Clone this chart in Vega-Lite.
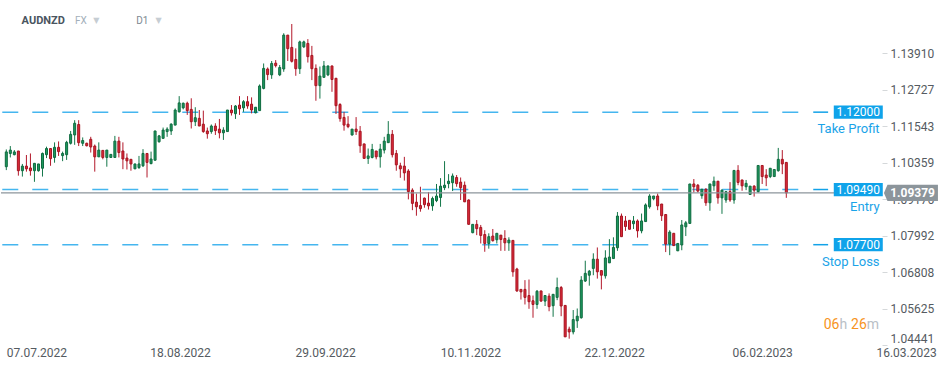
{
"$schema": "https://vega.github.io/schema/vega-lite/v6.json",
"width": 881, "height": 346, "padding": 0, "background": "white",
"config": {"view": {"stroke": null}, "font": "Roboto", "scale": {"continuousPadding": 0}},
"datasets": {
"levels": [
{"name": "Take Profit", "price": 1.12, "tag": "1.12000"},
{"name": "Entry", "price": 1.0949, "tag": "1.09490"},
{"name": "Stop Loss", "price": 1.077, "tag": "1.07700"}
],
"last": [{"price": 1.09379, "tag": "1.09379"}],
"candles": [
{"day":0,"open":1.1023,"high":1.1079,"low":1.1012,"close":1.1071},
{"day":1,"open":1.1066,"high":1.1090,"low":1.1053,"close":1.1077},
{"day":2,"open":1.1062,"high":1.1077,"low":1.1060,"close":1.1071},
{"day":3,"open":1.1074,"high":1.1074,"low":1.0994,"close":1.1010},
{"day":4,"open":1.1010,"high":1.1032,"low":1.0991,"close":1.1025},
{"day":5,"open":1.1025,"high":1.1061,"low":1.1007,"close":1.1016},
{"day":6,"open":1.1019,"high":1.1066,"low":1.0994,"close":1.1010},
{"day":7,"open":1.1010,"high":1.1034,"low":1.0974,"close":1.1034},
{"day":8,"open":1.1010,"high":1.1032,"low":1.1007,"close":1.1032},
{"day":9,"open":1.1018,"high":1.1069,"low":1.0991,"close":1.1066},
{"day":10,"open":1.1062,"high":1.1088,"low":1.1051,"close":1.1082},
{"day":11,"open":1.1082,"high":1.1082,"low":1.1026,"close":1.1049},
{"day":12,"open":1.1053,"high":1.1102,"low":1.1036,"close":1.1086},
{"day":13,"open":1.1086,"high":1.1105,"low":1.1058,"close":1.1072},
{"day":14,"open":1.1059,"high":1.1072,"low":1.1041,"close":1.1066},
{"day":15,"open":1.1062,"high":1.1107,"low":1.1045,"close":1.1102},
{"day":16,"open":1.1099,"high":1.1139,"low":1.1095,"close":1.1128},
{"day":17,"open":1.1126,"high":1.1174,"low":1.1094,"close":1.1164},
{"day":18,"open":1.1160,"high":1.1174,"low":1.1090,"close":1.1101},
{"day":19,"open":1.1099,"high":1.1118,"low":1.1090,"close":1.1108},
{"day":20,"open":1.1099,"high":1.1101,"low":1.1089,"close":1.1091},
{"day":21,"open":1.1112,"high":1.1120,"low":1.1069,"close":1.1087},
{"day":22,"open":1.1090,"high":1.1095,"low":1.1007,"close":1.1055},
{"day":23,"open":1.1055,"high":1.1102,"low":1.1055,"close":1.1077},
{"day":24,"open":1.1076,"high":1.1076,"low":1.1047,"close":1.1053},
{"day":25,"open":1.1053,"high":1.1077,"low":1.1023,"close":1.1077},
{"day":26,"open":1.1053,"high":1.1064,"low":1.1052,"close":1.1063},
{"day":27,"open":1.1053,"high":1.1123,"low":1.1053,"close":1.1106},
{"day":28,"open":1.1106,"high":1.1120,"low":1.1053,"close":1.1069},
{"day":29,"open":1.1074,"high":1.1102,"low":1.1015,"close":1.1048},
{"day":30,"open":1.1051,"high":1.1066,"low":1.1014,"close":1.1042},
{"day":31,"open":1.1047,"high":1.1047,"low":1.1010,"close":1.1032},
{"day":32,"open":1.1016,"high":1.1032,"low":1.1016,"close":1.1032},
{"day":33,"open":1.1020,"high":1.1058,"low":1.1016,"close":1.1032},
{"day":34,"open":1.1026,"high":1.1080,"low":1.1022,"close":1.1066},
{"day":35,"open":1.1066,"high":1.1066,"low":1.0988,"close":1.1037},
{"day":36,"open":1.1033,"high":1.1072,"low":1.1031,"close":1.1048},
{"day":37,"open":1.1044,"high":1.1139,"low":1.1044,"close":1.1139},
{"day":38,"open":1.1104,"high":1.1126,"low":1.1101,"close":1.1123},
{"day":39,"open":1.1115,"high":1.1150,"low":1.1115,"close":1.1142},
{"day":40,"open":1.1137,"high":1.1151,"low":1.1120,"close":1.1145},
{"day":41,"open":1.1139,"high":1.1164,"low":1.1126,"close":1.1161},
{"day":42,"open":1.1158,"high":1.1212,"low":1.1158,"close":1.1207},
{"day":43,"open":1.1201,"high":1.1252,"low":1.1199,"close":1.1230},
{"day":44,"open":1.1214,"high":1.1231,"low":1.1209,"close":1.1229},
{"day":45,"open":1.1229,"high":1.1234,"low":1.1191,"close":1.1205},
{"day":46,"open":1.1209,"high":1.1245,"low":1.1147,"close":1.1169},
{"day":47,"open":1.1169,"high":1.1216,"low":1.1155,"close":1.1182},
{"day":48,"open":1.1180,"high":1.1207,"low":1.1155,"close":1.1155},
{"day":49,"open":1.1161,"high":1.1205,"low":1.1133,"close":1.1137},
{"day":50,"open":1.1139,"high":1.1150,"low":1.1114,"close":1.1130},
{"day":51,"open":1.1137,"high":1.1160,"low":1.1130,"close":1.1155},
{"day":52,"open":1.1155,"high":1.1164,"low":1.1126,"close":1.1140},
{"day":53,"open":1.1145,"high":1.1178,"low":1.1115,"close":1.1133},
{"day":54,"open":1.1133,"high":1.1151,"low":1.1110,"close":1.1142},
{"day":55,"open":1.1137,"high":1.1207,"low":1.1137,"close":1.1207},
{"day":56,"open":1.1207,"high":1.1223,"low":1.1189,"close":1.1198},
{"day":57,"open":1.1195,"high":1.1223,"low":1.1178,"close":1.1220},
{"day":58,"open":1.1223,"high":1.1252,"low":1.1191,"close":1.1211},
{"day":59,"open":1.1214,"high":1.1239,"low":1.1201,"close":1.1234},
{"day":60,"open":1.1234,"high":1.1252,"low":1.1211,"close":1.1220},
{"day":61,"open":1.1226,"high":1.1248,"low":1.1196,"close":1.1207},
{"day":62,"open":1.1198,"high":1.1216,"low":1.1196,"close":1.1216},
{"day":63,"open":1.1205,"high":1.1290,"low":1.1205,"close":1.1285},
{"day":64,"open":1.1277,"high":1.1358,"low":1.1274,"close":1.1342},
{"day":65,"open":1.1340,"high":1.1345,"low":1.1304,"close":1.1322},
{"day":66,"open":1.1321,"high":1.1366,"low":1.1308,"close":1.1358},
{"day":67,"open":1.1359,"high":1.1369,"low":1.1345,"close":1.1351},
{"day":68,"open":1.1321,"high":1.1353,"low":1.1317,"close":1.1345},
{"day":69,"open":1.1340,"high":1.1456,"low":1.1331,"close":1.1450},
{"day":70,"open":1.1450,"high":1.1450,"low":1.1366,"close":1.1406},
{"day":71,"open":1.1410,"high":1.1486,"low":1.1361,"close":1.1365},
{"day":72,"open":1.1371,"high":1.1407,"low":1.1318,"close":1.1341},
{"day":73,"open":1.1341,"high":1.1432,"low":1.1324,"close":1.1428},
{"day":74,"open":1.1412,"high":1.1432,"low":1.1408,"close":1.1428},
{"day":75,"open":1.1423,"high":1.1437,"low":1.1361,"close":1.1380},
{"day":76,"open":1.1384,"high":1.1415,"low":1.1304,"close":1.1341},
{"day":77,"open":1.1342,"high":1.1355,"low":1.1237,"close":1.1286},
{"day":78,"open":1.1286,"high":1.1348,"low":1.1244,"close":1.1317},
{"day":79,"open":1.1313,"high":1.1366,"low":1.1313,"close":1.1350},
{"day":80,"open":1.1321,"high":1.1350,"low":1.1317,"close":1.1350},
{"day":81,"open":1.1350,"high":1.1350,"low":1.1266,"close":1.1306},
{"day":82,"open":1.1310,"high":1.1310,"low":1.1194,"close":1.1221},
{"day":83,"open":1.1225,"high":1.1229,"low":1.1169,"close":1.1179},
{"day":84,"open":1.1183,"high":1.1201,"low":1.1140,"close":1.1158},
{"day":85,"open":1.1161,"high":1.1187,"low":1.1148,"close":1.1153},
{"day":86,"open":1.1126,"high":1.1145,"low":1.1124,"close":1.1145},
{"day":87,"open":1.1145,"high":1.1184,"low":1.1126,"close":1.1137},
{"day":88,"open":1.1138,"high":1.1155,"low":1.1068,"close":1.1091},
{"day":89,"open":1.1097,"high":1.1097,"low":1.1050,"close":1.1050},
{"day":90,"open":1.1050,"high":1.1082,"low":1.1032,"close":1.1058},
{"day":91,"open":1.1053,"high":1.1097,"low":1.1050,"close":1.1079},
{"day":92,"open":1.1074,"high":1.1074,"low":1.1047,"close":1.1055},
{"day":93,"open":1.1055,"high":1.1097,"low":1.1020,"close":1.1080},
{"day":94,"open":1.1077,"high":1.1120,"low":1.1066,"close":1.1106},
{"day":95,"open":1.1101,"high":1.1171,"low":1.1101,"close":1.1128},
{"day":96,"open":1.1128,"high":1.1142,"low":1.1053,"close":1.1062},
{"day":97,"open":1.1066,"high":1.1077,"low":1.1010,"close":1.1029},
{"day":98,"open":1.1026,"high":1.1036,"low":1.0987,"close":1.1016},
{"day":99,"open":1.1025,"high":1.1055,"low":1.0978,"close":1.1003},
{"day":100,"open":1.1009,"high":1.1015,"low":1.0917,"close":1.0942},
{"day":101,"open":1.0947,"high":1.0953,"low":1.0882,"close":1.0904},
{"day":102,"open":1.0908,"high":1.0936,"low":1.0864,"close":1.0893},
{"day":103,"open":1.0897,"high":1.0958,"low":1.0877,"close":1.0887},
{"day":104,"open":1.0921,"high":1.0923,"low":1.0890,"close":1.0900},
{"day":105,"open":1.0905,"high":1.0941,"low":1.0884,"close":1.0896},
{"day":106,"open":1.0896,"high":1.0926,"low":1.0880,"close":1.0920},
{"day":107,"open":1.0913,"high":1.0967,"low":1.0908,"close":1.0928},
{"day":108,"open":1.0923,"high":1.0986,"low":1.0893,"close":1.0960},
{"day":109,"open":1.0955,"high":1.1041,"low":1.0947,"close":1.0963},
{"day":110,"open":1.0968,"high":1.0999,"low":1.0953,"close":1.0976},
{"day":111,"open":1.0971,"high":1.1001,"low":1.0944,"close":1.0993},
{"day":112,"open":1.0988,"high":1.0996,"low":1.0958,"close":1.0968},
{"day":113,"open":1.0973,"high":1.0988,"low":1.0915,"close":1.0955},
{"day":114,"open":1.0963,"high":1.0975,"low":1.0909,"close":1.0909},
{"day":115,"open":1.0915,"high":1.0917,"low":1.0836,"close":1.0836},
{"day":116,"open":1.0809,"high":1.0836,"low":1.0807,"close":1.0836},
{"day":117,"open":1.0836,"high":1.0850,"low":1.0801,"close":1.0822},
{"day":118,"open":1.0826,"high":1.0834,"low":1.0774,"close":1.0800},
{"day":119,"open":1.0803,"high":1.0817,"low":1.0747,"close":1.0774},
{"day":120,"open":1.0774,"high":1.0807,"low":1.0757,"close":1.0796},
{"day":121,"open":1.0798,"high":1.0821,"low":1.0780,"close":1.0783},
{"day":122,"open":1.0786,"high":1.0807,"low":1.0774,"close":1.0807},
{"day":123,"open":1.0801,"high":1.0801,"low":1.0750,"close":1.0787},
{"day":124,"open":1.0790,"high":1.0817,"low":1.0750,"close":1.0776},
{"day":125,"open":1.0776,"high":1.0794,"low":1.0750,"close":1.0785},
{"day":126,"open":1.0784,"high":1.0784,"low":1.0666,"close":1.0682},
{"day":127,"open":1.0691,"high":1.0695,"low":1.0617,"close":1.0620},
{"day":128,"open":1.0625,"high":1.0625,"low":1.0592,"close":1.0617},
{"day":129,"open":1.0625,"high":1.0655,"low":1.0576,"close":1.0599},
{"day":130,"open":1.0605,"high":1.0657,"low":1.0562,"close":1.0585},
{"day":131,"open":1.0588,"high":1.0605,"low":1.0533,"close":1.0576},
{"day":132,"open":1.0576,"high":1.0623,"low":1.0562,"close":1.0619},
{"day":133,"open":1.0620,"high":1.0620,"low":1.0585,"close":1.0587},
{"day":134,"open":1.0587,"high":1.0605,"low":1.0571,"close":1.0605},
{"day":135,"open":1.0603,"high":1.0612,"low":1.0554,"close":1.0569},
{"day":136,"open":1.0572,"high":1.0609,"low":1.0536,"close":1.0609},
{"day":137,"open":1.0599,"high":1.0663,"low":1.0590,"close":1.0631},
{"day":138,"open":1.0631,"high":1.0636,"low":1.0538,"close":1.0571},
{"day":139,"open":1.0573,"high":1.0573,"low":1.0471,"close":1.0471},
{"day":140,"open":1.0496,"high":1.0504,"low":1.0465,"close":1.0487},
{"day":141,"open":1.0487,"high":1.0558,"low":1.0479,"close":1.0527},
{"day":142,"open":1.0523,"high":1.0563,"low":1.0500,"close":1.0538},
{"day":143,"open":1.0533,"high":1.0668,"low":1.0530,"close":1.0655},
{"day":144,"open":1.0652,"high":1.0718,"low":1.0649,"close":1.0677},
{"day":145,"open":1.0671,"high":1.0688,"low":1.0637,"close":1.0684},
{"day":146,"open":1.0693,"high":1.0742,"low":1.0671,"close":1.0723},
{"day":147,"open":1.0723,"high":1.0761,"low":1.0660,"close":1.0682},
{"day":148,"open":1.0686,"high":1.0686,"low":1.0625,"close":1.0671},
{"day":149,"open":1.0669,"high":1.0752,"low":1.0660,"close":1.0727},
{"day":150,"open":1.0711,"high":1.0788,"low":1.0711,"close":1.0730},
{"day":151,"open":1.0725,"high":1.0794,"low":1.0725,"close":1.0761},
{"day":152,"open":1.0760,"high":1.0876,"low":1.0750,"close":1.0863},
{"day":153,"open":1.0863,"high":1.0871,"low":1.0796,"close":1.0796},
{"day":154,"open":1.0847,"high":1.0863,"low":1.0815,"close":1.0829},
{"day":155,"open":1.0849,"high":1.0849,"low":1.0820,"close":1.0820},
{"day":156,"open":1.0838,"high":1.0863,"low":1.0821,"close":1.0847},
{"day":157,"open":1.0847,"high":1.0852,"low":1.0793,"close":1.0815},
{"day":158,"open":1.0815,"high":1.0871,"low":1.0807,"close":1.0847},
{"day":159,"open":1.0845,"high":1.0904,"low":1.0845,"close":1.0899},
{"day":160,"open":1.0893,"high":1.0934,"low":1.0887,"close":1.0928},
{"day":161,"open":1.0919,"high":1.0928,"low":1.0914,"close":1.0928},
{"day":162,"open":1.0928,"high":1.0936,"low":1.0882,"close":1.0896},
{"day":163,"open":1.0902,"high":1.0902,"low":1.0847,"close":1.0864},
{"day":164,"open":1.0868,"high":1.0868,"low":1.0746,"close":1.0772},
{"day":165,"open":1.0772,"high":1.0817,"low":1.0736,"close":1.0811},
{"day":166,"open":1.0807,"high":1.0807,"low":1.0767,"close":1.0767},
{"day":167,"open":1.0750,"high":1.0774,"low":1.0750,"close":1.0774},
{"day":168,"open":1.0769,"high":1.0850,"low":1.0752,"close":1.0834},
{"day":169,"open":1.0828,"high":1.0847,"low":1.0798,"close":1.0841},
{"day":170,"open":1.0839,"high":1.0967,"low":1.0839,"close":1.0967},
{"day":171,"open":1.0967,"high":1.0983,"low":1.0939,"close":1.0958},
{"day":172,"open":1.0963,"high":1.0967,"low":1.0939,"close":1.0944},
{"day":173,"open":1.0929,"high":1.0950,"low":1.0919,"close":1.0950},
{"day":174,"open":1.0950,"high":1.0953,"low":1.0896,"close":1.0906},
{"day":175,"open":1.0906,"high":1.0967,"low":1.0880,"close":1.0967},
{"day":176,"open":1.0961,"high":1.0991,"low":1.0945,"close":1.0976},
{"day":177,"open":1.0976,"high":1.0976,"low":1.0903,"close":1.0922},
{"day":178,"open":1.0922,"high":1.0949,"low":1.0870,"close":1.0947},
{"day":179,"open":1.0915,"high":1.0942,"low":1.0906,"close":1.0942},
{"day":180,"open":1.0942,"high":1.0973,"low":1.0909,"close":1.0915},
{"day":181,"open":1.0915,"high":1.1011,"low":1.0903,"close":1.1011},
{"day":182,"open":1.1011,"high":1.1028,"low":1.0963,"close":1.0972},
{"day":183,"open":1.0980,"high":1.0980,"low":1.0945,"close":1.0961},
{"day":184,"open":1.0958,"high":1.0980,"low":1.0947,"close":1.0969},
{"day":185,"open":1.0933,"high":1.0960,"low":1.0933,"close":1.0960},
{"day":186,"open":1.0960,"high":1.0963,"low":1.0926,"close":1.0947},
{"day":187,"open":1.0942,"high":1.1027,"low":1.0939,"close":1.1027},
{"day":188,"open":1.1027,"high":1.1027,"low":1.0967,"close":1.0991},
{"day":189,"open":1.0996,"high":1.1015,"low":1.0960,"close":1.0987},
{"day":190,"open":1.0991,"high":1.1018,"low":1.0986,"close":1.1018},
{"day":191,"open":1.0991,"high":1.1014,"low":1.0991,"close":1.1014},
{"day":192,"open":1.1010,"high":1.1084,"low":1.1007,"close":1.1047},
{"day":193,"open":1.1047,"high":1.1077,"low":1.0999,"close":1.1032},
{"day":194,"open":1.1037,"high":1.1037,"low":1.0922,"close":1.0938}
]
},
"layer": [
{
"data": {"name": "levels"},
"mark": {"type": "rule", "strokeDash": [16, 14], "strokeWidth": 1.5, "color": "#45b6ef"},
"encoding": {
"x": {"datum": -1.0, "type": "quantitative", "scale": {"domain": [-1.32, 217.8], "nice": false, "zero": false, "padding": 0}, "title": null},
"x2": {"datum": 197.7},
"y": {"field": "price", "type": "quantitative", "scale": {"domain": [1.04413, 1.15639], "nice": false, "zero": false}, "title": null}
}
},
{
"data": {"name": "candles"},
"mark": {"type": "rule", "strokeWidth": 1},
"encoding": {
"x": {"field": "day", "type": "quantitative", "scale": {"domain": [-1.32, 217.8], "nice": false, "zero": false, "padding": 0}, "title": null,
"axis": {"values": [0, 35.7, 71.8, 107.9, 143.7, 180.5, 216.3],
"labelExpr": "['07.07.2022','18.08.2022','29.09.2022','10.11.2022','22.12.2022','06.02.2023','16.03.2023'][indexof([0,35.7,71.8,107.9,143.7,180.5,216.3], datum.value)]",
"grid": false, "domain": false, "ticks": false, "labelFont": "Roboto", "labelFontSize": 12, "labelColor": "#555b61",
"labelAlign": "left", "labelFlush": false, "labelOverlap": false, "labelPadding": 1, "labelBaseline": "top"}},
"y": {"field": "low", "type": "quantitative", "scale": {"domain": [1.04413, 1.15639], "nice": false, "zero": false}, "title": null,
"axis": {"orient": "right", "values": [1.04441, 1.05625, 1.06808, 1.07992, 1.09176, 1.10359, 1.11543, 1.12727, 1.1391],
"format": ".5f", "grid": false, "domain": false, "tickSize": 5, "tickColor": "#d5d8da", "labelPadding": 3,
"labelFont": "Roboto", "labelFontSize": 12, "labelColor": "#555b61", "labelOverlap": false, "labelBound": false,
"labelBaseline": {"condition": {"test": "datum.value < 1.05", "value": "bottom"}, "value": "middle"}}},
"y2": {"field": "high"},
"color": {"condition": {"test": "datum.close >= datum.open", "value": "#14774a"}, "value": "#b3192b"}
}
},
{
"data": {"name": "candles"},
"mark": {"type": "bar", "width": 2, "strokeWidth": 1},
"encoding": {
"x": {"field": "day", "type": "quantitative", "scale": {"domain": [-1.32, 217.8], "nice": false, "zero": false, "padding": 0}, "title": null},
"y": {"field": "open", "type": "quantitative", "scale": {"domain": [1.04413, 1.15639], "nice": false, "zero": false}, "title": null},
"y2": {"field": "close"},
"fill": {"condition": {"test": "datum.close >= datum.open", "value": "#1d9a60"}, "value": "#df2a3c"},
"stroke": {"condition": {"test": "datum.close >= datum.open", "value": "#0f6a3f"}, "value": "#a3141f"}
}
},
{
"data": {"name": "last"},
"mark": {"type": "rule", "strokeWidth": 1.3, "color": "#8c959b"},
"encoding": {
"y": {"field": "price", "type": "quantitative", "scale": {"domain": [1.04413, 1.15639], "nice": false, "zero": false}, "title": null}
}
},
{
"data": {"name": "last"},
"mark": {"type": "point", "filled": true, "opacity": 1, "color": "#8c959b", "size": 2916, "shape": "M-1,0L-0.87,-0.3H1V0.3H-0.87Z"},
"encoding": {
"x": {"datum": 225.0, "type": "quantitative", "scale": {"domain": [-1.32, 217.8], "nice": false, "zero": false, "padding": 0}, "title": null},
"y": {"field": "price", "type": "quantitative", "scale": {"domain": [1.04413, 1.15639], "nice": false, "zero": false}, "title": null}
}
},
{
"data": {"name": "last"},
"mark": {"type": "text", "font": "Roboto", "fontSize": 12, "fontWeight": "bold", "color": "white", "align": "center", "baseline": "middle"},
"encoding": {
"x": {"datum": 225.4, "type": "quantitative", "scale": {"domain": [-1.32, 217.8], "nice": false, "zero": false, "padding": 0}, "title": null},
"y": {"field": "price", "type": "quantitative", "scale": {"domain": [1.04413, 1.15639], "nice": false, "zero": false}, "title": null},
"text": {"field": "tag"}
}
},
{
"data": {"name": "levels"},
"mark": {"type": "rule", "strokeWidth": 1.5, "color": "#12a2e8"},
"encoding": {
"x": {"datum": 200.7, "type": "quantitative", "scale": {"domain": [-1.32, 217.8], "nice": false, "zero": false, "padding": 0}, "title": null},
"x2": {"datum": 204.4},
"y": {"field": "price", "type": "quantitative", "scale": {"domain": [1.04413, 1.15639], "nice": false, "zero": false}, "title": null}
}
},
{
"data": {"name": "levels"},
"mark": {"type": "point", "filled": true, "opacity": 1, "color": "#0fa3ea", "size": 2401, "shape": "M-1,-0.27H1V0.27H-1Z"},
"encoding": {
"x": {"datum": 211.9, "type": "quantitative", "scale": {"domain": [-1.32, 217.8], "nice": false, "zero": false, "padding": 0}, "title": null},
"y": {"field": "price", "type": "quantitative", "scale": {"domain": [1.04413, 1.15639], "nice": false, "zero": false}, "title": null}
}
},
{
"data": {"name": "levels"},
"mark": {"type": "text", "font": "Roboto", "fontSize": 12, "color": "white", "align": "center", "baseline": "middle"},
"encoding": {
"x": {"datum": 211.9, "type": "quantitative", "scale": {"domain": [-1.32, 217.8], "nice": false, "zero": false, "padding": 0}, "title": null},
"y": {"field": "price", "type": "quantitative", "scale": {"domain": [1.04413, 1.15639], "nice": false, "zero": false}, "title": null},
"text": {"field": "tag"}
}
},
{
"data": {"name": "levels"},
"mark": {"type": "text", "font": "Roboto", "fontSize": 13, "color": "#1aa3e8", "align": "right", "baseline": "middle", "dy": 17},
"encoding": {
"x": {"datum": 217.2, "type": "quantitative", "scale": {"domain": [-1.32, 217.8], "nice": false, "zero": false, "padding": 0}, "title": null},
"y": {"field": "price", "type": "quantitative", "scale": {"domain": [1.04413, 1.15639], "nice": false, "zero": false}, "title": null},
"text": {"field": "name"}
}
},
{
"data": {"values": [{}]},
"mark": {"type": "text", "font": "Roboto", "fontSize": 14, "color": "#f7941d", "align": "left", "baseline": "middle"},
"encoding": {
"x": {"datum": 203.3, "type": "quantitative", "scale": {"domain": [-1.32, 217.8], "nice": false, "zero": false, "padding": 0}, "title": null},
"y": {"datum": 1.05094, "type": "quantitative", "scale": {"domain": [1.04413, 1.15639], "nice": false, "zero": false}, "title": null},
"text": {"value": "06"}
}
},
{
"data": {"values": [{}]},
"mark": {"type": "text", "font": "Roboto", "fontSize": 14, "color": "#b9c0c6", "align": "left", "baseline": "middle"},
"encoding": {
"x": {"datum": 207.2, "type": "quantitative", "scale": {"domain": [-1.32, 217.8], "nice": false, "zero": false, "padding": 0}, "title": null},
"y": {"datum": 1.05094, "type": "quantitative", "scale": {"domain": [1.04413, 1.15639], "nice": false, "zero": false}, "title": null},
"text": {"value": "h"}
}
},
{
"data": {"values": [{}]},
"mark": {"type": "text", "font": "Roboto", "fontSize": 14, "color": "#f7941d", "align": "left", "baseline": "middle"},
"encoding": {
"x": {"datum": 210.1, "type": "quantitative", "scale": {"domain": [-1.32, 217.8], "nice": false, "zero": false, "padding": 0}, "title": null},
"y": {"datum": 1.05094, "type": "quantitative", "scale": {"domain": [1.04413, 1.15639], "nice": false, "zero": false}, "title": null},
"text": {"value": "26"}
}
},
{
"data": {"values": [{}]},
"mark": {"type": "text", "font": "Roboto", "fontSize": 14, "color": "#b9c0c6", "align": "left", "baseline": "middle"},
"encoding": {
"x": {"datum": 214.0, "type": "quantitative", "scale": {"domain": [-1.32, 217.8], "nice": false, "zero": false, "padding": 0}, "title": null},
"y": {"datum": 1.05094, "type": "quantitative", "scale": {"domain": [1.04413, 1.15639], "nice": false, "zero": false}, "title": null},
"text": {"value": "m"}
}
},
{
"data": {"values": [{}]},
"mark": {"type": "text", "font": "Roboto", "fontSize": 11, "fontWeight": "bold", "color": "#4a5560", "align": "left", "baseline": "middle"},
"encoding": {
"x": {"datum": 3.8, "type": "quantitative", "scale": {"domain": [-1.32, 217.8], "nice": false, "zero": false, "padding": 0}, "title": null},
"y": {"datum": 1.14945, "type": "quantitative", "scale": {"domain": [1.04413, 1.15639], "nice": false, "zero": false}, "title": null},
"text": {"value": "AUDNZD"}
}
},
{
"data": {"values": [{}]},
"mark": {"type": "text", "font": "Roboto", "fontSize": 10, "color": "#a3afba", "align": "left", "baseline": "middle"},
"encoding": {
"x": {"datum": 17.1, "type": "quantitative", "scale": {"domain": [-1.32, 217.8], "nice": false, "zero": false, "padding": 0}, "title": null},
"y": {"datum": 1.14945, "type": "quantitative", "scale": {"domain": [1.04413, 1.15639], "nice": false, "zero": false}, "title": null},
"text": {"value": "FX"}
}
},
{
"data": {"values": [{}]},
"mark": {"type": "text", "font": "DejaVu Sans", "fontSize": 8, "color": "#c6cdd3", "align": "center", "baseline": "middle"},
"encoding": {
"x": {"datum": 22.4, "type": "quantitative", "scale": {"domain": [-1.32, 217.8], "nice": false, "zero": false, "padding": 0}, "title": null},
"y": {"datum": 1.1496, "type": "quantitative", "scale": {"domain": [1.04413, 1.15639], "nice": false, "zero": false}, "title": null},
"text": {"value": "▼"}
}
},
{
"data": {"values": [{}]},
"mark": {"type": "text", "font": "Roboto", "fontSize": 10, "color": "#7d8892", "align": "left", "baseline": "middle"},
"encoding": {
"x": {"datum": 32.3, "type": "quantitative", "scale": {"domain": [-1.32, 217.8], "nice": false, "zero": false, "padding": 0}, "title": null},
"y": {"datum": 1.14945, "type": "quantitative", "scale": {"domain": [1.04413, 1.15639], "nice": false, "zero": false}, "title": null},
"text": {"value": "D1"}
}
},
{
"data": {"values": [{}]},
"mark": {"type": "text", "font": "DejaVu Sans", "fontSize": 8, "color": "#c6cdd3", "align": "center", "baseline": "middle"},
"encoding": {
"x": {"datum": 37.9, "type": "quantitative", "scale": {"domain": [-1.32, 217.8], "nice": false, "zero": false, "padding": 0}, "title": null},
"y": {"datum": 1.1496, "type": "quantitative", "scale": {"domain": [1.04413, 1.15639], "nice": false, "zero": false}, "title": null},
"text": {"value": "▼"}
}
}
]
}
